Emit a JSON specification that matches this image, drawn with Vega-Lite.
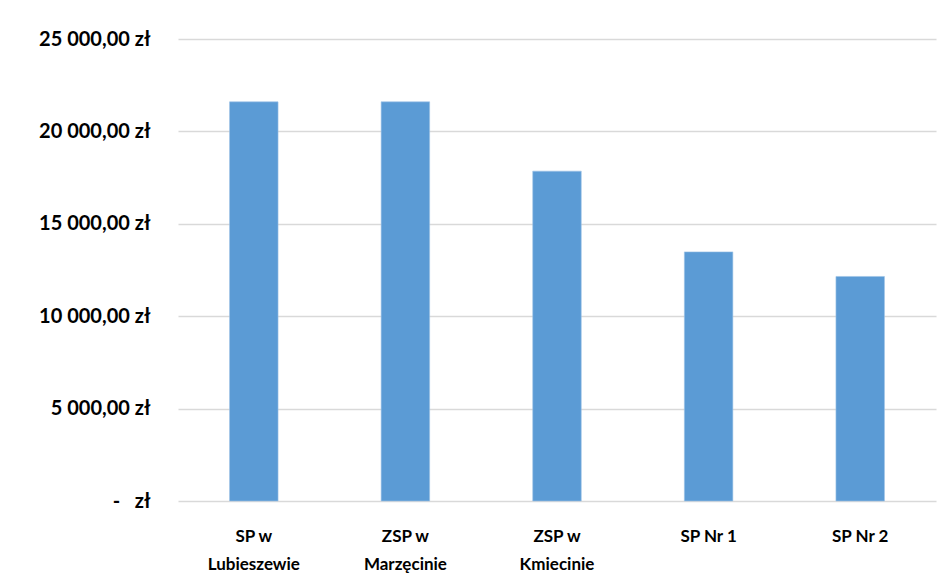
{
  "$schema": "https://vega.github.io/schema/vega-lite/v6.json",
  "width": 758,
  "height": 462,
  "autosize": "none",
  "padding": {"left": 178, "top": 39, "right": 16, "bottom": 87},
  "background": "white",
  "data": {
    "values": [
      {"szkola": "SP w|Lubieszewie", "kwota": 21600},
      {"szkola": "ZSP w|Marzęcinie", "kwota": 21600},
      {"szkola": "ZSP w|Kmiecinie", "kwota": 17850},
      {"szkola": "SP Nr 1", "kwota": 13480},
      {"szkola": "SP Nr 2", "kwota": 12150}
    ]
  },
  "mark": {"type": "bar", "color": "#5B9BD5", "stroke": "#9DC3E6", "strokeWidth": 0.6},
  "encoding": {
    "x": {
      "field": "szkola",
      "type": "nominal",
      "sort": null,
      "scale": {"paddingInner": 0.68, "paddingOuter": 0.34},
      "axis": {
        "title": null,
        "labelAngle": 0,
        "labelExpr": "split(datum.label, '|')",
        "labelFont": "Lato",
        "labelFontWeight": "bold",
        "labelFontSize": 17,
        "labelColor": "#000000",
        "labelLineHeight": 28,
        "labelPadding": 35,
        "labelBaseline": "middle",
        "ticks": false,
        "domain": false,
        "grid": false
      }
    },
    "y": {
      "field": "kwota",
      "type": "quantitative",
      "scale": {"domain": [0, 25000], "nice": false},
      "axis": {
        "title": null,
        "values": [0, 5000, 10000, 15000, 20000, 25000],
        "labelExpr": "datum.value == 0 ? '-\u00a0\u00a0\u00a0zł' : replace(replace(replace(format(datum.value, ',.2f'), '.', '#'), ',', '\u00a0'), '#', ',') + '\u00a0zł'",
        "labelFont": "Lato",
        "labelFontWeight": "bold",
        "labelFontSize": 20,
        "labelColor": "#000000",
        "labelPadding": 28,
        "ticks": false,
        "domain": false,
        "grid": true,
        "gridColor": "#D9D9D9",
        "gridWidth": 1.5
      }
    }
  },
  "config": {
    "view": {"stroke": null}
  }
}
